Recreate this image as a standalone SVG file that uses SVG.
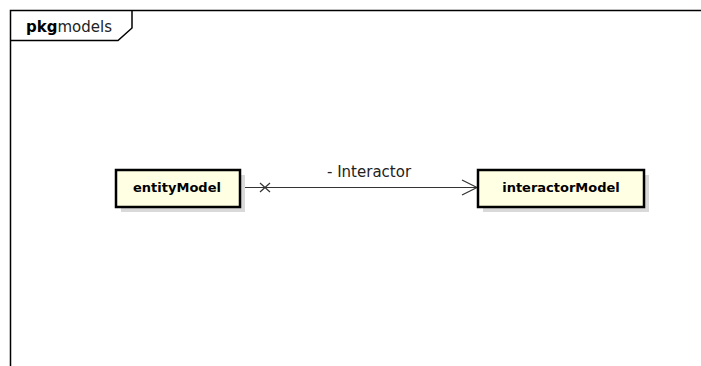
<svg xmlns="http://www.w3.org/2000/svg" width="701" height="366" viewBox="0 0 701 366">
  <style>
    .frame { fill: none; stroke: #000; stroke-width: 1.5; }
    .cls { fill: #FFFFE3; stroke: #000; stroke-width: 2.5; }
    .shadow { fill: #d9d9d9; }
    .name { font-family: "DejaVu Sans", "Liberation Sans", sans-serif; font-size: 13px; font-weight: bold; fill: #000; text-anchor: middle; }
    .lbl { font-family: "DejaVu Sans", "Liberation Sans", sans-serif; font-size: 15px; fill: #222; }
    .edge { fill: none; stroke: #333; stroke-width: 1.2; }
  </style>
  <rect width="701" height="366" fill="#fff"/>

  <!-- package frame -->
  <g id="pkg-models">
    <path d="M10.5 366 V10.5 H701" class="frame"/>
    <path d="M10.5 40.5 H118 L132 28 V10.5" class="frame"/>
    <text x="26" y="31.5" class="lbl"><tspan font-weight="bold" fill="#000">pkg</tspan>models</text>
  </g>

  <!-- association -->
  <g id="connectors">
    <line x1="240" y1="187.5" x2="477" y2="187.5" class="edge"/>
    <path d="M260 183 L270 192 M260 192 L270 183" class="edge"/>
    <path d="M462 180 L477 187.5 L462 195" class="edge"/>
    <text x="327" y="177" class="lbl">- Interactor</text>
  </g>

  <g id="entityModel">
    <rect x="121" y="175" width="124" height="37" class="shadow"/>
    <rect x="116" y="170" width="124" height="37" class="cls"/>
    <text x="177" y="191.5" class="name">entityModel</text>
  </g>

  <g id="interactorModel">
    <rect x="483" y="175" width="166" height="37" class="shadow"/>
    <rect x="478" y="170" width="166" height="37" class="cls"/>
    <text x="561" y="191.5" class="name">interactorModel</text>
  </g>
</svg>
